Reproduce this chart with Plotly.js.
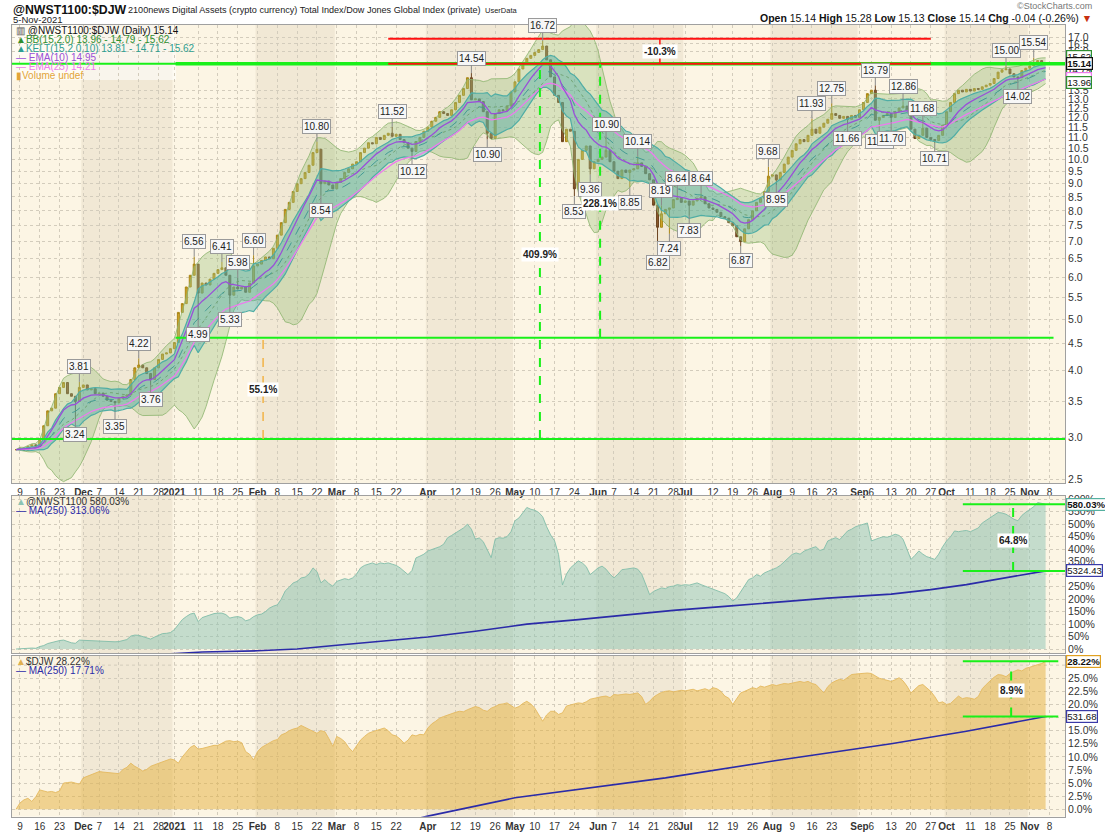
<!DOCTYPE html>
<html><head><meta charset="utf-8">
<script src="https://cdn.plot.ly/plotly-3.0.1.min.js"></script>
<style>html,body{margin:0;padding:0;background:#fff}#chart{width:1105px;height:833px}</style>
</head><body><div id="chart"></div>
<script>
// ---------------- DATA ----------------
// trading-day index 0 = 6-Nov-2020 ... 260 = 5-Nov-2021 (weekdays)
const ratioClose = [2.84,
2.86,2.83,2.88,2.90,2.89, 2.97,3.15,3.36,3.40,3.62, 3.72,3.80,3.62,3.58,3.50, 3.72,3.76,3.68,3.70,3.62,
3.63,3.58,3.52,3.50,3.48, 3.55,3.58,3.60,3.85,4.05, 4.10,4.05,3.95,3.85,4.05, 4.20,4.30,4.32,4.40,4.52,
5.15,5.35,5.75,6.05,6.35, 5.60,5.85,5.80,5.95,6.10, 6.20,6.25,6.05,5.55,5.75, 5.70,5.75,5.62,5.85,6.30,
6.35,6.45,6.55,6.50,6.80, 7.20,7.60,8.05,8.30,8.70, 9.00,9.20,9.45,9.75,10.30, 10.45,9.00,9.10,8.95,8.80,
9.05,9.20,9.45,9.60,9.80, 9.90,10.30,10.50,10.75,10.70, 11.00,10.90,11.10,11.20,11.05, 11.15,10.90,10.75,10.50,10.35,
10.80,11.00,11.30,11.50,11.80, 12.00,12.30,12.20,12.10,12.40, 12.80,13.20,13.60,14.25,12.95, 13.00,12.85,12.30,11.20,10.95,
12.20,12.40,12.35,12.60,13.40, 14.00,14.80,15.20,15.50,15.70, 15.90,16.10,16.35,15.40,14.30, 13.20,12.80,10.80,11.40,11.30,
8.80,10.00,10.40,10.60,9.60, 9.90,10.00,10.10,10.40,9.90, 9.50,9.20,9.55,9.45,9.55, 9.60,9.85,9.70,9.40,9.15,
8.20,7.45,7.90,8.05,8.10, 8.40,8.45,8.30,8.35,8.20, 8.35,8.45,8.50,8.25,8.10, 8.05,7.95,7.80,7.75,7.60,
7.50,7.15,7.00,7.40,7.70, 8.00,8.30,8.45,8.70,9.30, 9.35,9.15,9.45,9.80,10.10, 10.40,10.70,10.90,10.80,11.10,
11.40,11.20,11.50,11.70,11.90, 12.20,12.10,11.95,12.05,11.90, 12.10,12.00,12.40,12.80,13.30, 13.50,11.85,12.00,12.10,12.20,
12.00,12.30,12.50,12.60,12.40, 11.40,10.95,11.10,11.45,11.00, 10.90,10.85,11.10,11.60,12.30, 12.80,13.30,13.50,13.40,13.55,
13.45,13.60,13.55,13.70,13.80, 13.90,14.20,14.60,14.75,14.80, 14.50,14.30,14.25,14.70,14.85, 15.00,15.20,15.35,15.18,15.14];

// labelled highs (h) and lows (l): [day index, value, type]
const ratioExtremes = [[15,3.24,'l'],[16,3.81,'h'],[25,3.35,'l'],[31,4.22,'h'],[34,3.76,'l'],[45,6.56,'h'],[46,4.99,'l'],
[52,6.41,'h'],[54,5.33,'l'],[56,5.98,'h'],[60,6.60,'h'],[76,10.80,'h'],[77,8.54,'l'],[95,11.52,'h'],[100,10.12,'l'],
[115,14.54,'h'],[119,10.90,'l'],[133,16.72,'h'],[141,8.53,'l'],[145,9.36,'l'],[149,10.90,'h'],[155,8.85,'l'],[157,10.14,'h'],
[162,6.82,'l'],[163,8.19,'h'],[165,7.24,'l'],[167,8.64,'h'],[170,7.83,'l'],[173,8.64,'h'],[183,6.87,'l'],[190,9.68,'h'],
[192,8.95,'l'],[201,11.93,'h'],[206,12.75,'h'],[210,11.66,'l'],[217,13.79,'h'],[218,11.53,'l'],[221,11.70,'l'],[224,12.86,'h'],
[229,11.68,'h'],[232,10.71,'l'],[250,15.00,'h'],[253,14.02,'l'],[257,15.54,'h']];

const nwstPct = [0,
2,1,3,4,3, 10,14,22,27,32, 34,36,30,25,23, 36,35,34,35,33, 32,31,30,29,29, 30,33,38,52,56, 55,50,43,40,48, 56,62,63,66,78,
97,118,130,140,144, 110,126,132,138,142, 144,144,138,124,128, 130,126,113,118,130, 137,140,150,164,172, 177,200,233,248,265,
271,285,288,300,325, 310,265,278,262,252, 271,276,282,278,285, 300,325,335,340,345, 338,345,342,345,340, 335,325,310,298,315,
365,372,380,393,398, 406,410,420,446,455, 465,473,485,500,480, 440,445,430,395,366, 440,446,444,450,470, 514,525,545,567,560,
556,547,530,490,457, 434,379,257,300,325, 340,353,345,330,298, 310,325,332,320,300, 285,300,318,320,322, 325,320,300,260,218,
231,238,245,242,250, 252,258,255,258,256, 260,265,258,252,248, 240,236,231,222,210, 192,205,230,255,278, 285,298,292,305,312,
318,325,335,350,365, 379,385,380,392,400, 405,410,395,400,433, 440,446,438,455,473, 480,490,495,500,505, 433,440,445,450,448,
453,460,455,440,400, 359,375,393,380,370, 365,359,380,410,433, 450,473,470,473,475, 470,478,485,505,515, 527,535,547,545,540,
530,520,514,535,548, 560,570,587,582,580.03];

const djwPct = [0.0,
1.2,1.8,2.1,1.5,2.4, 3.7,3.5,3.3,3.4,3.2, 3.5,5.0,5.1,5.2,5.0, 4.8,6.0,6.3,6.5,6.9, 7.2,7.1,7.0,6.9,6.8, 6.8,7.6,8.0,8.8,8.2,
7.8,7.3,7.6,8.2,8.5, 8.8,9.0,9.4,9.6,9.4, 8.8,10.0,11.0,11.8,12.2, 11.5,11.6,11.8,12.0,12.2, 12.2,12.6,13.0,13.1,12.9,
13.0,12.7,11.0,10.5,9.4, 11.0,11.8,12.2,12.6,13.1, 13.3,14.2,14.5,15.0,15.3, 15.5,16.0,15.6,15.2,14.9, 14.5,15.0,14.8,13.5,12.0,
13.9,13.5,12.9,11.8,11.0, 12.0,13.2,13.9,14.5,14.8, 15.0,15.2,15.5,15.0,14.2, 14.0,13.4,12.6,13.2,14.2, 14.0,14.3,14.2,15.5,16.3,
16.8,17.4,17.7,18.0,18.2, 18.5,18.7,18.6,19.0,19.3, 19.6,19.4,18.9,18.7,19.3, 19.6,20.0,20.1,20.3,19.8, 19.3,19.6,20.2,20.6,20.1,
19.3,18.0,16.8,18.0,18.7, 18.7,18.1,18.4,19.7,19.9, 20.1,20.3,20.2,20.5,21.0, 21.2,21.4,21.5,21.6,21.3, 21.9,21.8,21.9,22.0,21.9,
22.1,22.2,21.5,20.0,20.6, 21.4,21.9,22.3,22.5,22.6, 22.4,22.6,22.7,22.6,22.8, 22.9,22.6,22.8,23.0,22.7, 23.2,23.0,22.5,21.6,21.2,
20.0,21.0,22.2,22.5,22.8, 23.2,23.0,23.5,23.3,23.6, 23.8,23.6,23.8,24.0,23.9, 24.1,24.3,24.4,24.2,24.4, 24.0,23.8,23.0,22.2,23.4,
24.1,24.5,24.8,24.6,25.2, 25.7,25.8,25.9,26.0,26.0, 25.9,25.5,25.0,24.8,24.6, 24.4,24.7,25.1,24.5,23.5, 22.2,23.0,23.6,23.8,23.2,
22.5,21.5,20.3,20.5,20.0, 20.2,20.9,21.6,21.1,21.3, 21.2,21.0,21.5,23.0,23.8, 24.5,25.2,25.7,25.6,25.3, 25.9,26.3,26.6,26.4,26.9,
27.1,27.4,27.6,27.8,28.22];

// MA(250) lines (day index, %)
const maNwstDay = [38,47,61,71,81,90,104,116,129,142,154,166,179,192,205,221,231,240,250,260];
const maNwstVal = [-20,-12,-7,0,15,27,48,71,100,118,136,155,171,188,204,220,238,258,285,313.06];
const maDjwDay = [100,104,126,164,192,221,240,260];
const maDjwVal = [-2.0,-1.3,2.2,6.0,9.3,12.5,14.9,17.71];

// user-drawn measurement levels
const topLevels = {hi:16.88, cur:15.14, mid:4.614, low:2.975};
const topMeasures = [{day:132.3,from:2.975,to:15.14,text:'409.9%',at:6.63},{day:147.5,from:4.614,to:15.14,text:'228.1%',at:8.27},
                     {day:62.4,from:2.975,to:4.614,text:'55.1%',at:3.68},{day:162.6,from:15.14,to:16.88,text:'-10.3%',at:15.95}];
const midLevels = [580.03, 313.06]; const midMeasure = {day:251.8, text:'64.8%', at:433};
const botLevels = [28.22, 17.71];   const botMeasure = {day:251.3, text:'8.9%', at:22.6};

// x-axis ticks (day index, label)
const tickDay = [1,6,11,17,21,26,31,36,40,46,51,56,61,66,71,76,81,86,91,96,104,111,116,121,126,131,136,141,147,151,156,161,166,169,176,181,186,191,196,201,206,213,216,221,226,231,235,241,246,251,256,261];
const tickLabel = ['9','16','23','Dec','7','14','21','28','2021','11','18','25','Feb','8','15','22','Mar','8','15','22','Apr','12','19','26','May','10','17','24','Jun','7','14','21','28','Jul','12','19','26','Aug','9','16','23','Sep','6','13','20','27','Oct','11','18','25','Nov','8'];
// right-axis tick values (those hidden under the value boxes are left out)
const topTicks = [2.5,3.0,3.5,4.0,4.5,5.0,5.5,6.0,6.5,7.0,7.5,8.0,8.5,9.0,9.5,10.0,10.5,11.0,11.5,12.0,12.5,13.0,13.5,16.0,16.5,17.0];
const midTicks = [0,50,100,150,200,250,350,400,450,500,550,600];
const botTicks = [0,2.5,5,7.5,10,12.5,15,20,22.5,25];

// -------------- indicators computed from the closes --------------
const n = ratioClose.length;
const days = ratioClose.map((_, i) => i);
const opens = ratioClose.map((c, i) => i ? ratioClose[i-1] : c);
const highs = ratioClose.map((c, i) => Math.max(c, opens[i]));
const lows  = ratioClose.map((c, i) => Math.min(c, opens[i]));
ratioExtremes.forEach(([i, v, t]) => { if (t === 'h') highs[i] = Math.max(highs[i], v); else lows[i] = Math.min(lows[i], v); });

function ema(src, p) { const k = 2/(p+1), out = []; src.forEach((v, i) => out.push(i ? v*k + out[i-1]*(1-k) : v)); return out; }
const bbMid = [], bbUp = [], bbLo = [];
for (let i = 0; i < n; i++) {
  const w = ratioClose.slice(Math.max(0, i-14), i+1);
  const m = w.reduce((a, b) => a+b, 0)/w.length;
  const sd = Math.sqrt(w.reduce((a, b) => a+(b-m)*(b-m), 0)/w.length);
  bbMid.push(m); bbUp.push(m+2*sd); bbLo.push(m-2*sd);
}
const tr = ratioClose.map((c, i) => i ? Math.max(highs[i], ratioClose[i-1]) - Math.min(lows[i], ratioClose[i-1]) : highs[i]-lows[i]);
const atr = []; tr.forEach((t, i) => atr.push(i ? (atr[i-1]*9 + t)/10 : t));
const kMid = ema(ratioClose, 15);
const kUp = kMid.map((m, i) => m + 2*atr[i]);
const kLo = kMid.map((m, i) => m - 2*atr[i]);
const ema10 = ema(ratioClose, 10), ema25 = ema(ratioClose, 25);

// ---------------- LAYOUT ----------------
const W = 1105, H = 833;
const PL = 12, PR = 1065;
const px = v => v / W, py = v => 1 - v / H;
const FONT = 'Liberation Sans, Arial, sans-serif';
const GREEN = '#19f019', GRID = '#d3ccbc';
const XR = [-1.01, 264.9];

const traces = [];
traces.push({x: days, y: bbUp, type: 'scatter', mode: 'lines', line: {color: 'rgba(140,180,110,0.8)', width: 1}, xaxis: 'x', yaxis: 'y', hoverinfo: 'skip'});
traces.push({x: days, y: bbLo, type: 'scatter', mode: 'lines', fill: 'tonexty', fillcolor: 'rgba(160,195,130,0.38)', line: {color: 'rgba(140,180,110,0.8)', width: 1}, xaxis: 'x', yaxis: 'y', hoverinfo: 'skip'});
traces.push({x: days, y: kUp, type: 'scatter', mode: 'lines', line: {color: '#4fada5', width: 1.2}, xaxis: 'x', yaxis: 'y', hoverinfo: 'skip'});
traces.push({x: days, y: kLo, type: 'scatter', mode: 'lines', fill: 'tonexty', fillcolor: 'rgba(70,170,165,0.42)', line: {color: '#4fada5', width: 1.2}, xaxis: 'x', yaxis: 'y', hoverinfo: 'skip'});
traces.push({x: days, y: bbMid, type: 'scatter', mode: 'lines', line: {color: 'rgba(110,160,110,0.9)', width: 1, dash: 'dot'}, xaxis: 'x', yaxis: 'y', hoverinfo: 'skip'});
traces.push({x: days, y: kMid, type: 'scatter', mode: 'lines', line: {color: 'rgba(60,150,145,0.9)', width: 1, dash: 'dash'}, xaxis: 'x', yaxis: 'y', hoverinfo: 'skip'});
traces.push({x: days, y: ema25, type: 'scatter', mode: 'lines', line: {color: '#ee7aee', width: 1.3}, xaxis: 'x', yaxis: 'y', hoverinfo: 'skip'});
traces.push({x: days, y: ema10, type: 'scatter', mode: 'lines', line: {color: '#9a4fd8', width: 1.3}, xaxis: 'x', yaxis: 'y', hoverinfo: 'skip'});
traces.push({type: 'candlestick', x: days, open: opens, high: highs, low: lows, close: ratioClose, xaxis: 'x', yaxis: 'y',
  increasing: {line: {color: '#a98616', width: 1}, fillcolor: '#d2a62c'},
  decreasing: {line: {color: '#6c4420', width: 1}, fillcolor: '#8d5b2d'}, whiskerwidth: 0, hoverinfo: 'skip'});
const seg = (x0, x1, y0, y1, color, width, dash, ax, ay) => ({x: [x0, x1], y: [y0, y1], type: 'scatter', mode: 'lines',
  line: {color, width, dash: dash || 'solid'}, xaxis: ax, yaxis: ay, hoverinfo: 'skip'});
traces.push(seg(XR[0], XR[1], topLevels.cur, topLevels.cur, GREEN, 2, null, 'x', 'y'));
traces.push(seg(40.3, XR[1], topLevels.cur, topLevels.cur, GREEN, 3.5, null, 'x', 'y'));
traces.push(seg(40.3, 262, topLevels.mid, topLevels.mid, GREEN, 2, null, 'x', 'y'));
traces.push(seg(XR[0], XR[1], topLevels.low, topLevels.low, GREEN, 2, null, 'x', 'y'));
traces.push(seg(94, 231, topLevels.hi, topLevels.hi, '#ff1010', 2, null, 'x', 'y'));
traces.push(seg(94, 231, topLevels.cur, topLevels.cur, '#ff1010', 2, null, 'x', 'y'));
const measColors = [GREEN, GREEN, '#f2b347', '#ff1010'];
topMeasures.forEach((m, k) => traces.push(seg(m.day, m.day, m.from, m.to, measColors[k], k < 2 ? 2 : 1.5, 'dash', 'x', 'y')));

traces.push({x: days, y: nwstPct, type: 'scatter', mode: 'lines', fill: 'tozeroy', fillcolor: 'rgba(140,195,180,0.5)', line: {color: 'rgba(130,190,170,0.9)', width: 1}, xaxis: 'x2', yaxis: 'y2', hoverinfo: 'skip'});
traces.push({x: maNwstDay, y: maNwstVal, type: 'scatter', mode: 'lines', line: {color: '#2b2ba8', width: 1.6}, xaxis: 'x2', yaxis: 'y2', hoverinfo: 'skip'});
midLevels.forEach(v => traces.push(seg(239.1, XR[1], v, v, GREEN, 2, null, 'x2', 'y2')));
traces.push(seg(midMeasure.day, midMeasure.day, midLevels[1], midLevels[0], GREEN, 2, 'dash', 'x2', 'y2'));

traces.push({x: days, y: djwPct, type: 'scatter', mode: 'lines', fill: 'tozeroy', fillcolor: 'rgba(228,176,60,0.5)', line: {color: 'rgba(228,185,95,0.9)', width: 1}, xaxis: 'x3', yaxis: 'y3', hoverinfo: 'skip'});
traces.push({x: maDjwDay, y: maDjwVal, type: 'scatter', mode: 'lines', line: {color: '#2b2ba8', width: 1.6}, xaxis: 'x3', yaxis: 'y3', hoverinfo: 'skip'});
botLevels.forEach(v => traces.push(seg(239.1, 263.2, v, v, GREEN, 2, null, 'x3', 'y3')));
traces.push(seg(botMeasure.day, botMeasure.day, botLevels[1], botLevels[0], GREEN, 2, 'dash', 'x3', 'y3'));

const isMonth = t => /^[A-Za-z]|2021/.test(t);
const tickText = tickLabel.map(t => isMonth(t) ? '<b>' + t + '</b>' : t);
const xBase = {range: XR, tickmode: 'array', tickvals: tickDay, ticktext: tickText, tickangle: 0, showgrid: true, gridcolor: GRID, griddash: 'dot',
  gridwidth: 1, zeroline: false, showline: true, linecolor: '#a0a0a0', mirror: true, ticks: '', fixedrange: true, automargin: false,
  tickfont: {size: 10, color: '#333', family: FONT}, domain: [px(PL), px(PR)]};
const yBase = {side: 'right', tickmode: 'array', showgrid: true, gridcolor: GRID, griddash: 'dot', zeroline: false, showline: true,
  linecolor: '#a0a0a0', mirror: true, ticks: '', fixedrange: true, automargin: false, tickfont: {size: 10.5, color: '#333', family: FONT}};

const monthStarts = tickDay.filter((d, k) => isMonth(tickLabel[k]));
const shapes = [];
monthStarts.forEach((d, k) => {
  if (k % 2 === 0) {
    const end = k+1 < monthStarts.length ? monthStarts[k+1] : XR[1];
    [['x', 'y domain'], ['x2', 'y2 domain'], ['x3', 'y3 domain']].forEach(([xr, yr]) => shapes.push({type: 'rect', xref: xr, yref: yr,
      x0: d-0.5, x1: end-0.5, y0: 0, y1: 1, fillcolor: '#f1e8d5', line: {width: 0}, layer: 'below'}));
  }
});
// gridlines for the hidden right-axis values (labels sit under the value boxes)
[[14.0,'y'],[14.5,'y'],[15.0,'y'],[15.5,'y'],[300,'y2'],[17.5,'y3'],[27.5,'y3']].forEach(([v, yr]) => shapes.push({type: 'line', xref: 'paper', yref: yr,
  x0: px(PL), x1: px(PR), y0: yr === 'y' ? Math.log10(v) : v, y1: yr === 'y' ? Math.log10(v) : v, line: {color: GRID, width: 1, dash: 'dot'}, layer: 'below'}));
shapes.push({type: 'rect', xref: 'paper', yref: 'paper', x0: px(13), x1: px(176), y0: py(80), y1: py(25), fillcolor: 'rgba(255,255,255,0.55)', line: {width: 0}, layer: 'between'});

const ann = [];
const A = (o) => ann.push(Object.assign({showarrow: false, font: {family: FONT, size: 10, color: '#222'}}, o));
A({xref: 'paper', yref: 'paper', x: px(11), y: py(9.5), xanchor: 'left', yanchor: 'middle', text: '<b>@NWST1100:$DJW</b>', font: {family: FONT, size: 12.3, color: '#111'}});
A({xref: 'paper', yref: 'paper', x: px(126), y: py(10), xanchor: 'left', yanchor: 'middle', text: '2100news Digital Assets (crypto currency) Total Index/Dow Jones Global Index (private)', font: {family: FONT, size: 9.1, color: '#222'}});
A({xref: 'paper', yref: 'paper', x: px(483), y: py(10.5), xanchor: 'left', yanchor: 'middle', text: 'UserData', font: {family: FONT, size: 7.5, color: '#222'}});
A({xref: 'paper', yref: 'paper', x: px(11), y: py(19.5), xanchor: 'left', yanchor: 'middle', text: '5-Nov-2021', font: {family: FONT, size: 9.5, color: '#222'}});
A({xref: 'paper', yref: 'paper', x: px(1094), y: py(5.5), xanchor: 'right', yanchor: 'middle', text: '©StockCharts.com', font: {family: FONT, size: 9, color: '#777'}});
A({xref: 'paper', yref: 'paper', x: px(1094), y: py(18), xanchor: 'right', yanchor: 'middle',
  text: '<b>Open</b> 15.14 <b>High</b> 15.28 <b>Low</b> 15.13 <b>Close</b> 15.14 <b>Chg</b> -0.04 (-0.26%) <span style="color:#c83010">▼</span>', font: {family: FONT, size: 10.5, color: '#111'}});
const legTop = [['<span style="color:#555">▥</span> @NWST1100:$DJW (Daily) 15.14', '#111'], ['▲BB(15,2.0) 13.96 - 14.79 - 15.62', '#2f8f2f'],
  ['▲KELT(15,2.0,10) 13.81 - 14.71 - 15.62', '#2e9e91'], ['— EMA(10) 14.95', '#9a4fd8'], ['— EMA(25) 14.21', '#ee7aee'], ['▮Volume undef', '#e2a53a']];
legTop.forEach(([t, c], k) => A({xref: 'paper', yref: 'paper', x: px(14), y: py(30.5 + k*8.9), xanchor: 'left', yanchor: 'middle', text: t, font: {family: FONT, size: 10, color: c}}));
A({xref: 'paper', yref: 'paper', x: px(14), y: py(501), xanchor: 'left', yanchor: 'middle', text: '<span style="color:#8cc4b4">▲</span>@NWST1100 580.03%', font: {family: FONT, size: 10, color: '#333'}});
A({xref: 'paper', yref: 'paper', x: px(14), y: py(510), xanchor: 'left', yanchor: 'middle', text: '— MA(250) 313.06%', font: {family: FONT, size: 10, color: '#2b2ba8'}});
A({xref: 'paper', yref: 'paper', x: px(14), y: py(661), xanchor: 'left', yanchor: 'middle', text: '<span style="color:#e2b050">▲</span>$DJW 28.22%', font: {family: FONT, size: 10, color: '#333'}});
A({xref: 'paper', yref: 'paper', x: px(14), y: py(670), xanchor: 'left', yanchor: 'middle', text: '— MA(250) 17.71%', font: {family: FONT, size: 10, color: '#2b2ba8'}});
ratioExtremes.forEach(([i, v, t]) => A({xref: 'x', yref: 'y', x: i, y: Math.log10(v), text: v.toFixed(2), showarrow: true, arrowhead: 0,
  arrowwidth: 1, arrowcolor: '#8a8a8a', ax: 0, ay: t === 'h' ? -15 : 15, bgcolor: '#f7f7f7', bordercolor: '#9a9a9a', borderwidth: 1, borderpad: 1,
  font: {family: FONT, size: 10, color: '#222'}}));
topMeasures.forEach(m => A({xref: 'x', yref: 'y', x: m.day, y: Math.log10(m.at), text: '<b>' + m.text + '</b>', bgcolor: '#ffffff', borderpad: 1, font: {family: FONT, size: 10, color: '#222'}}));
A({xref: 'x2', yref: 'y2', x: midMeasure.day, y: midMeasure.at, text: '<b>' + midMeasure.text + '</b>', bgcolor: '#ffffff', borderpad: 1});
A({xref: 'x3', yref: 'y3', x: botMeasure.day, y: botMeasure.at, text: '<b>' + botMeasure.text + '</b>', bgcolor: '#ffffff', borderpad: 1});
const box = (yref, y, text, color, bold) => A({xref: 'paper', yref, x: px(1066), y, xanchor: 'left', yanchor: 'middle',
  text: bold ? '<b>' + text + '</b>' : text, bgcolor: '#ffffff', bordercolor: color, borderwidth: 1.2, borderpad: 0,
  font: {family: FONT, size: 9.6, color: '#111'}});
box('y', Math.log10(14.79), '14.79', '#2f8f2f');
box('y', Math.log10(14.21), '14.21', '#ee7aee');
box('y', Math.log10(15.62), '15.62', '#2f8f2f');
box('y', Math.log10(13.96), '13.96', '#2f8f2f');
box('y', Math.log10(15.14), '15.14', '#111', true);
box('y2', 313.06, '5324.43', '#3a3aa8');
box('y2', 580.03, '580.03%', '#55b0a0', true);
box('y3', 17.71, '531.68', '#3a3aa8');
box('y3', 28.22, '28.22%', '#e0a020', true);

const layout = {
  width: W, height: H, margin: {l: 0, r: 0, t: 0, b: 0}, paper_bgcolor: '#ffffff', plot_bgcolor: '#fcf5e4',
  showlegend: false, hovermode: false, font: {family: FONT},
  xaxis: Object.assign({}, xBase, {anchor: 'y', rangeslider: {visible: false}}),
  xaxis2: Object.assign({}, xBase, {anchor: 'y2', showticklabels: false}),
  xaxis3: Object.assign({}, xBase, {anchor: 'y3'}),
  yaxis: Object.assign({}, yBase, {anchor: 'x', domain: [py(483), py(24.5)], type: 'log', range: [Math.log10(2.4575), Math.log10(17.95)],
    tickvals: topTicks, ticktext: topTicks.map(v => v.toFixed(1))}),
  yaxis2: Object.assign({}, yBase, {anchor: 'x2', domain: [py(653.3), py(496)], range: [-17, 613], tickvals: midTicks, ticktext: midTicks.map(v => v + '%')}),
  yaxis3: Object.assign({}, yBase, {anchor: 'x3', domain: [py(816.7), py(655.7)], range: [-1.41, 29.3], tickvals: botTicks, ticktext: botTicks.map(v => v.toFixed(1) + '%')}),
  shapes, annotations: ann
};
Plotly.newPlot('chart', traces, layout, {staticPlot: true, displayModeBar: false});
</script>
</body></html>
